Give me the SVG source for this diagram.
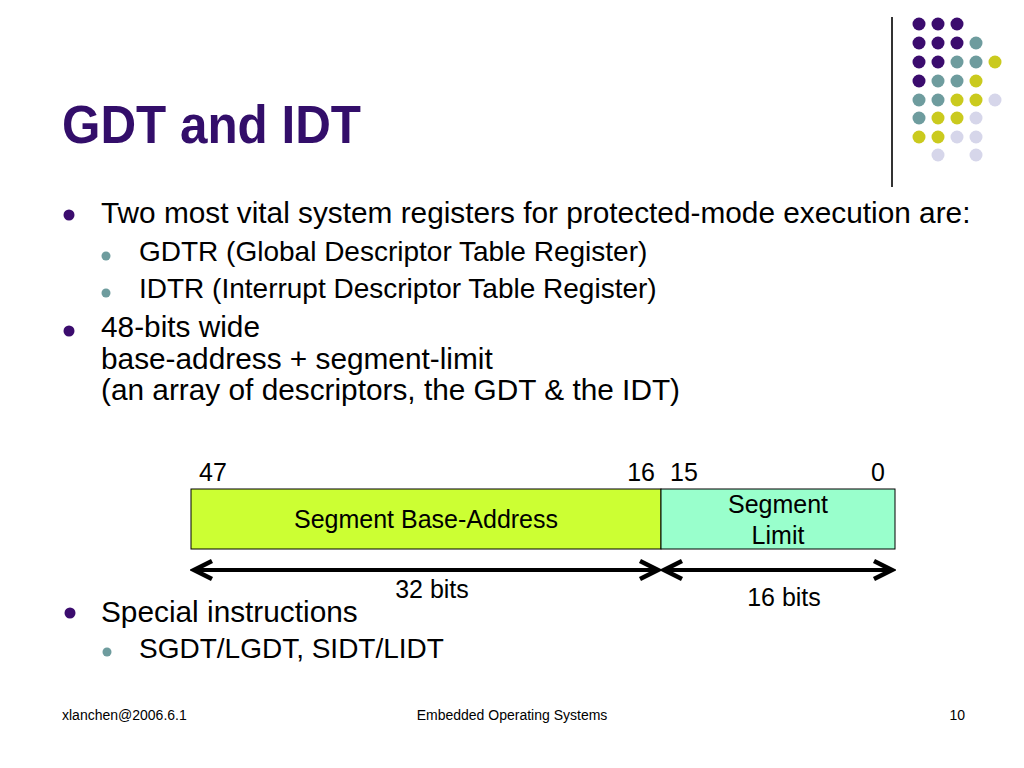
<svg xmlns="http://www.w3.org/2000/svg" width="1024" height="768" viewBox="0 0 1024 768">
<defs>
<style>
.t{font-family:"Liberation Sans",Arial,sans-serif;fill:#000}
.title{font-family:"Liberation Sans",Arial,sans-serif;font-weight:bold;font-size:53px;fill:#330E6A}
.l1{font-size:29.8px}
.l2{font-size:28px}
.bx{font-size:25px}
.ft{font-size:14px}
.p{fill:#3B0C6E}.g{fill:#6E9C9E}.y{fill:#CACA1E}.v{fill:#D6D6EA}
.b1{fill:#3B0C6E}.b2{fill:#6E9C9E}
.arrow{stroke:#000;stroke-width:4;fill:none;marker-start:url(#chev);marker-end:url(#chev)}
</style>
<marker id="chev" markerUnits="userSpaceOnUse" viewBox="-22 -12 26 24" refX="0" refY="0" markerWidth="26" markerHeight="24" orient="auto-start-reverse">
<path d="M-18,-9 L0,0 L-18,9" fill="none" stroke="#000" stroke-width="4.5" stroke-linejoin="miter"/>
</marker>
</defs>
<rect width="1024" height="768" fill="#fff"/>
<g id="decor">
<line x1="892" y1="17" x2="892" y2="187" stroke="#333" stroke-width="2"/>
<circle class="p" cx="919" cy="24" r="6.5"/><circle class="p" cx="938" cy="24" r="6.5"/><circle class="p" cx="957" cy="24" r="6.5"/>
<circle class="p" cx="919" cy="43" r="6.5"/><circle class="p" cx="938" cy="43" r="6.5"/><circle class="p" cx="957" cy="43" r="6.5"/><circle class="g" cx="976" cy="43" r="6.5"/>
<circle class="p" cx="919" cy="62" r="6.5"/><circle class="p" cx="938" cy="62" r="6.5"/><circle class="g" cx="957" cy="62" r="6.5"/><circle class="g" cx="976" cy="62" r="6.5"/><circle class="y" cx="995" cy="62" r="6.5"/>
<circle class="p" cx="919" cy="81" r="6.5"/><circle class="g" cx="938" cy="81" r="6.5"/><circle class="g" cx="957" cy="81" r="6.5"/><circle class="y" cx="976" cy="81" r="6.5"/>
<circle class="g" cx="919" cy="100" r="6.5"/><circle class="g" cx="938" cy="100" r="6.5"/><circle class="y" cx="957" cy="100" r="6.5"/><circle class="y" cx="976" cy="100" r="6.5"/><circle class="v" cx="995" cy="100" r="6.5"/>
<circle class="g" cx="919" cy="118" r="6.5"/><circle class="y" cx="938" cy="118" r="6.5"/><circle class="y" cx="957" cy="118" r="6.5"/><circle class="v" cx="976" cy="118" r="6.5"/>
<circle class="y" cx="919" cy="137" r="6.5"/><circle class="y" cx="938" cy="137" r="6.5"/><circle class="v" cx="957" cy="137" r="6.5"/><circle class="v" cx="976" cy="137" r="6.5"/>
<circle class="v" cx="938" cy="155" r="6.5"/><circle class="v" cx="976" cy="155" r="6.5"/>
</g>
<g id="title"><text class="title" x="62" y="143" textLength="299" lengthAdjust="spacingAndGlyphs">GDT and IDT</text></g>
<g id="bullets">
<circle class="b1" cx="69" cy="215" r="5.5"/>
<text class="t l1" x="101" y="223">Two most vital system registers for protected-mode execution are:</text>
<circle class="b2" cx="106" cy="256" r="4.5"/>
<text class="t l2" x="139" y="261">GDTR (Global Descriptor Table Register)</text>
<circle class="b2" cx="106" cy="293" r="4.5"/>
<text class="t l2" x="139" y="298">IDTR (Interrupt Descriptor Table Register)</text>
<circle class="b1" cx="69" cy="331" r="5.5"/>
<text class="t l1" x="101" y="337">48-bits wide</text>
<text class="t l1" x="101" y="369">base-address + segment-limit</text>
<text class="t l1" x="101" y="400">(an array of descriptors, the GDT &amp; the IDT)</text>
<circle class="b1" cx="70" cy="613" r="5.5"/>
<text class="t l1" x="101" y="622">Special instructions</text>
<circle class="b2" cx="107" cy="652" r="4.5"/>
<text class="t l2" x="139" y="658">SGDT/LGDT, SIDT/LIDT</text>
</g>
<g id="bit-labels">
<text class="t bx" x="199" y="481">47</text>
<text class="t bx" x="655" y="481" text-anchor="end">16</text>
<text class="t bx" x="670" y="481">15</text>
<text class="t bx" x="885" y="481" text-anchor="end">0</text>
</g>
<g id="node-base">
<rect x="191" y="489" width="470" height="60" fill="#CCFF33" stroke="#000" stroke-width="1"/>
<text class="t bx" x="426" y="528" text-anchor="middle">Segment Base-Address</text>
</g>
<g id="node-limit">
<rect x="661" y="489" width="234" height="60" fill="#99FFCC" stroke="#000" stroke-width="1"/>
<text class="t bx" x="778" y="513" text-anchor="middle">Segment</text>
<text class="t bx" x="778" y="544" text-anchor="middle">Limit</text>
</g>
<g id="connectors">
<line class="arrow" x1="194" y1="570" x2="658" y2="570"/>
<line class="arrow" x1="664" y1="570" x2="892" y2="570"/>
</g>
<g id="connector-labels">
<text class="t bx" x="432" y="598" text-anchor="middle">32 bits</text>
<text class="t bx" x="784" y="606" text-anchor="middle">16 bits</text>
</g>
<g id="footer">
<text class="t ft" x="62" y="720">xlanchen@2006.6.1</text>
<text class="t ft" x="512" y="720" text-anchor="middle">Embedded Operating Systems</text>
<text class="t ft" x="965" y="720" text-anchor="end">10</text>
</g>
</svg>
